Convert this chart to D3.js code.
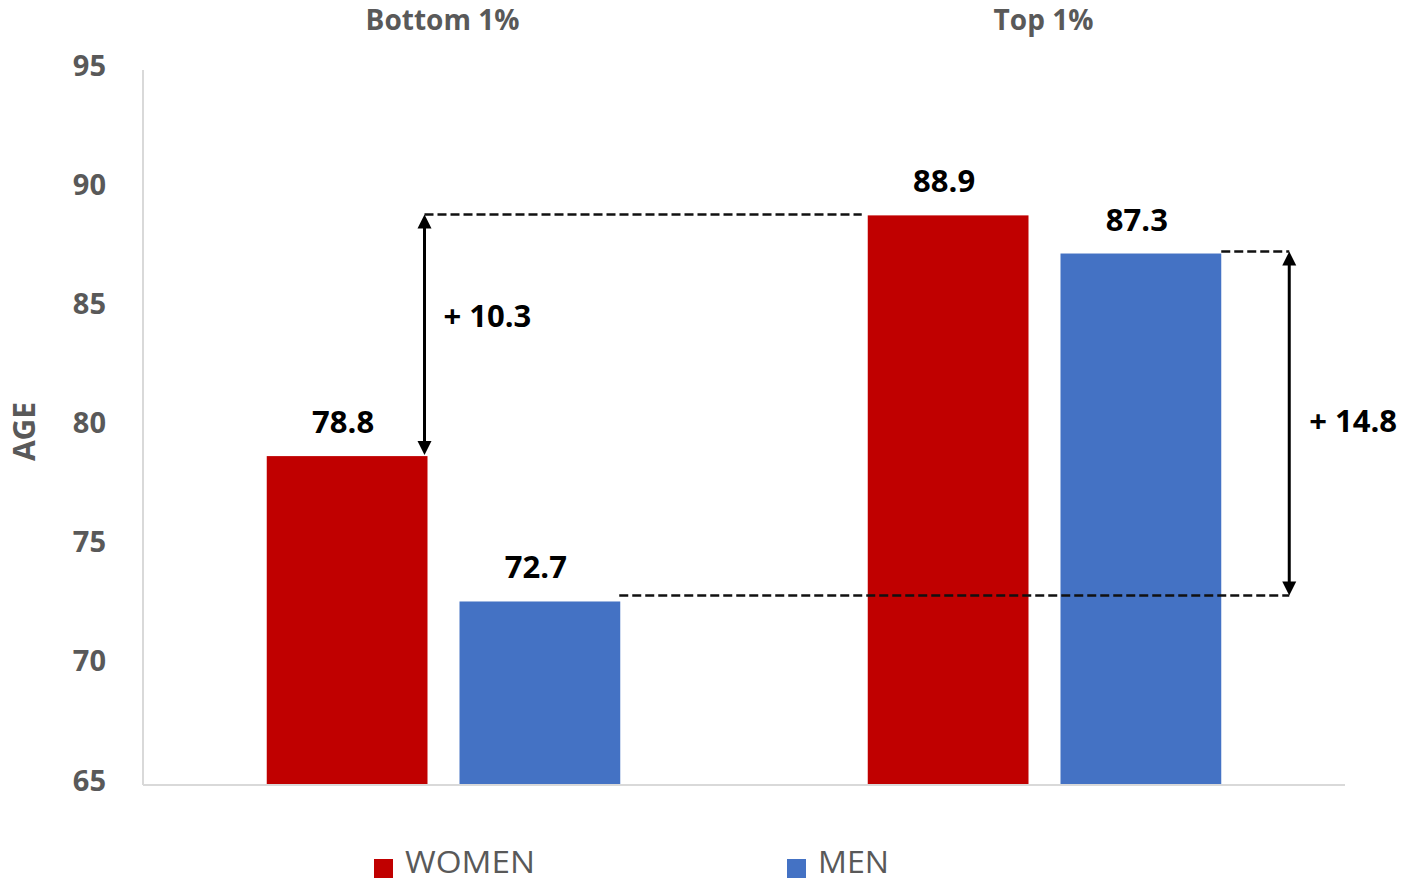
<!DOCTYPE html>
<html>
<head>
<meta charset="utf-8">
<script src="https://cdn.jsdelivr.net/npm/d3@7"></script>
<style>
  html, body { margin: 0; padding: 0; background: #fff; }
  svg { display: block; }
</style>
</head>
<body>
<svg id="chart" width="1405" height="881"></svg>
<script>
// Life expectancy at age 40 by income percentile
const groups = ["Bottom 1%", "Top 1%"];
const seriesNames = ["WOMEN", "MEN"];
const women = [78.8, 88.9];
const men = [72.7, 87.3];
// published gaps between the top and bottom percentile (unrounded source values)
const gapWomen = 10.3;
const gapMen = 14.8;
const yTicks = [65, 70, 75, 80, 85, 90, 95];
const axisTitle = "AGE";

const colors = { WOMEN: "#c00000", MEN: "#4472c4" };
const grey = "#595959";
const font = "'Open Sans', 'Liberation Sans', sans-serif";

const svg = d3.select("#chart");

const x0 = d3.scaleBand().domain(groups).range([143, 1345]).paddingInner(0).paddingOuter(0);
const x1 = d3.scaleBand().domain(seriesNames).range([0, x0.bandwidth()])
  .paddingInner(0.166).paddingOuter(0.642);
const y = d3.scaleLinear().domain([65, 95]).range([785, 70]);

const rows = groups.map((g, i) => ({ group: g, values: [
  { key: "WOMEN", value: women[i] },
  { key: "MEN", value: men[i] }
]}));

// vertical axis line
svg.append("line").attr("x1", 143).attr("x2", 143).attr("y1", y(95)).attr("y2", y(65))
  .attr("stroke", "#d9d9d9").attr("stroke-width", 2);

// y tick labels
const yAxis = d3.axisLeft(y).tickValues(yTicks).tickSize(0).tickPadding(0);
const gy = svg.append("g").attr("transform", "translate(106,-5)").call(yAxis);
gy.select(".domain").remove();
gy.selectAll("text")
  .attr("font-family", font).attr("font-weight", 700).attr("font-size", 29)
  .attr("fill", grey).attr("dy", "0.35em");

// axis title
svg.append("text")
  .attr("transform", `translate(35,${y(80) + 4}) rotate(-90)`)
  .attr("text-anchor", "middle")
  .attr("font-family", font).attr("font-weight", 700).attr("font-size", 30)
  .attr("fill", grey).text(axisTitle);

// group labels along the top
const gx = svg.append("g").attr("transform", "translate(-1,30)")
  .call(d3.axisTop(x0).tickSize(0).tickPadding(0));
gx.select(".domain").remove();
gx.selectAll("text")
  .attr("font-family", font).attr("font-weight", 700).attr("font-size", 28)
  .attr("fill", grey);

// bars
const gGroups = svg.selectAll("g.grp").data(rows).join("g")
  .attr("class", "grp")
  .attr("transform", d => `translate(${x0(d.group)},0)`);

gGroups.selectAll("rect").data(d => d.values).join("rect")
  .attr("x", d => x1(d.key))
  .attr("width", x1.bandwidth())
  .attr("y", d => y(d.value))
  .attr("height", d => y(65) - y(d.value))
  .attr("fill", d => colors[d.key]);

gGroups.selectAll("text.val").data(d => d.values).join("text")
  .attr("class", "val")
  .attr("x", d => x1(d.key) + x1.bandwidth() / 2 - 4)
  .attr("y", d => y(d.value) - 23)
  .attr("text-anchor", "middle")
  .attr("font-family", font).attr("font-weight", 700).attr("font-size", 31)
  .attr("fill", "#000").text(d => d.value.toFixed(1));

// bottom axis line
svg.append("line").attr("x1", 143).attr("x2", 1345).attr("y1", y(65)).attr("y2", y(65))
  .attr("stroke", "#d9d9d9").attr("stroke-width", 2);

// gap annotations
function dashed(xa, xb, yy) {
  svg.append("line").attr("x1", xa).attr("x2", xb).attr("y1", yy).attr("y2", yy)
    .attr("stroke", "#111").attr("stroke-width", 2.5).attr("stroke-dasharray", "9,4");
}
function doubleArrow(xx, ya, yb) {
  const h = 14, w = 7;
  svg.append("line").attr("x1", xx).attr("x2", xx).attr("y1", ya + h - 2).attr("y2", yb - h + 2)
    .attr("stroke", "#000").attr("stroke-width", 3);
  svg.append("path").attr("d", `M${xx},${ya} L${xx - w},${ya + h} L${xx + w},${ya + h} Z`).attr("fill", "#000");
  svg.append("path").attr("d", `M${xx},${yb} L${xx - w},${yb - h} L${xx + w},${yb - h} Z`).attr("fill", "#000");
}
function gapLabel(xx, yy, txt) {
  svg.append("text").attr("x", xx).attr("y", yy)
    .attr("font-family", font).attr("font-weight", 700).attr("font-size", 31)
    .attr("fill", "#000").text(txt);
}

// women: bottom 1% vs top 1%
const wBottom = women[0], wTop = women[1];
const xWArrow = x0(groups[0]) + x1("WOMEN") + x1.bandwidth() - 3;
dashed(xWArrow, x0(groups[1]) + x1("WOMEN") - 6, y(wTop) - 1);
doubleArrow(xWArrow, y(wTop) - 1, y(wBottom) - 1);
gapLabel(xWArrow + 19, 327, "+ " + gapWomen.toFixed(1));

// men: bottom 1% vs top 1%
const mBottom = men[0], mTop = men[1];
const xMArrow = x0(groups[1]) + x1("MEN") + x1.bandwidth() + 68;
dashed(x0(groups[1]) + x1("MEN") + x1.bandwidth(), xMArrow, y(mTop) - 2);
dashed(x0(groups[0]) + x1("MEN") + x1.bandwidth() - 1, xMArrow, y(mBottom) - 6);
doubleArrow(xMArrow, y(mTop) - 2, y(mBottom) - 6);
gapLabel(xMArrow + 20, 432, "+ " + gapMen.toFixed(1));

// legend
const legendX = [374, 787];
const lg = svg.selectAll("g.leg").data(seriesNames).join("g")
  .attr("class", "leg")
  .attr("transform", (d, i) => `translate(${legendX[i]},859)`);
lg.append("rect").attr("width", 19).attr("height", 19).attr("fill", d => colors[d]);
lg.append("text").attr("x", 31).attr("y", 14)
  .attr("font-family", font).attr("font-size", 31).attr("fill", grey)
  .attr("textLength", d => d === "WOMEN" ? 130 : 71).attr("lengthAdjust", "spacingAndGlyphs")
  .text(d => d);
</script>
</body>
</html>
